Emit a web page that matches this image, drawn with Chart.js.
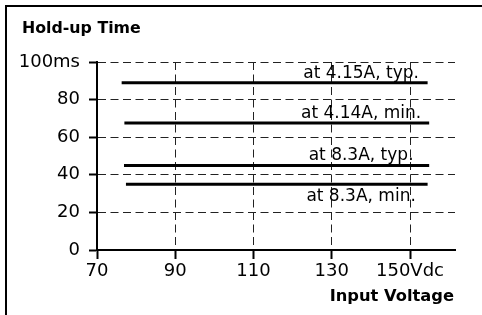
<!DOCTYPE html>
<html>
<head>
<meta charset="utf-8">
<script src="https://cdn.jsdelivr.net/npm/chart.js@4.4.0/dist/chart.umd.min.js"></script>
<style>
  html, body { margin: 0; padding: 0; background: #fff; }
  #wrap { width: 482px; height: 315px; position: relative; }
</style>
</head>
<body>
<div id="wrap"><canvas id="holdup"></canvas></div>
<script>
// values
var seriesNames = ["at 4.15A, typ.", "at 4.14A, min.", "at 8.3A, typ.", "at 8.3A, min."];
var holdupMs = [89, 67.5, 45, 35];
var startVdc = [76.3, 77.0, 76.9, 77.4];
var endVdc = [154.5, 154.9, 154.9, 154.5];
var xTicks = [70, 90, 110, 130, 150];
var yTicks = [0, 20, 40, 60, 80, 100];

var FONT = "'DejaVu Sans', sans-serif";

var datasets = holdupMs.map(function (v, i) {
    return {
        label: seriesNames[i],
        data: [{ x: startVdc[i], y: v }, { x: endVdc[i], y: v }],
        borderColor: "#000",
        borderWidth: 3,
        pointRadius: 0,
        fill: false
    };
});

var decor = {
    id: "decor",
    afterDraw: function (chart) {
        var c = chart.ctx;
        var xs = chart.scales.x, ys = chart.scales.y;
        c.save();
        // frame
        c.strokeStyle = "#000";
        c.lineWidth = 2;
        c.beginPath();
        c.moveTo(6, 315);
        c.lineTo(6, 6);
        c.lineTo(482, 6);
        c.stroke();

        c.fillStyle = "#000";
        c.font = "bold 15.8px " + FONT;
        c.textAlign = "left";
        c.textBaseline = "alphabetic";
        c.fillText("Hold-up Time", 22, 33);

        c.font = "bold 16.3px " + FONT;
        c.textAlign = "right";
        c.fillText("Input Voltage", 454, 301);

        // series labels
        c.font = "17px " + FONT;
        c.textAlign = "center";
        seriesNames.forEach(function (name, i) {
            var px = xs.getPixelForValue(137.5);
            var py = ys.getPixelForValue(holdupMs[i]);
            if (i === seriesNames.length - 1) {
                c.fillText(name, px, py + 17);
            } else {
                c.fillText(name, px, py - 5);
            }
        });
        c.restore();
    }
};

new Chart(document.getElementById("holdup"), {
    type: "line",
    data: { datasets: datasets },
    options: {
        responsive: true,
        maintainAspectRatio: false,
        animation: false,
        layout: { padding: { left: 0, top: 62, right: 27, bottom: 0 } },
        plugins: { legend: { display: false }, tooltip: { enabled: false } },
        scales: {
            x: {
                type: "linear",
                min: 70,
                max: 161.5,
                afterFit: function (s) { s.height = 65; },
                afterBuildTicks: function (s) { s.ticks = xTicks.map(function (v) { return { value: v }; }); },
                ticks: {
                    color: "#000",
                    font: { family: FONT, size: 18 },
                    padding: 2,
                    maxRotation: 0,
                    callback: function (v) { return v === 150 ? "150Vdc" : v; }
                },
                grid: {
                    color: "#222",
                    lineWidth: 1,
                    tickLength: 9,
                    tickColor: "#000",
                    tickWidth: 2
                },
                border: { color: "#000", width: 2, dash: [8, 4.5] }
            },
            y: {
                min: 0,
                max: 100,
                afterFit: function (s) { s.width = 97; },
                afterBuildTicks: function (s) { s.ticks = yTicks.map(function (v) { return { value: v }; }); },
                ticks: {
                    color: "#000",
                    font: { family: FONT, size: 18 },
                    padding: 9,
                    callback: function (v) { return v === 100 ? "100ms" : v; }
                },
                grid: {
                    color: "#222",
                    lineWidth: 1,
                    tickLength: 8,
                    tickColor: "#000",
                    tickWidth: 2
                },
                border: { color: "#000", width: 2, dash: [8, 4.5] }
            }
        }
    },
    plugins: [decor]
});
</script>
</body>
</html>
